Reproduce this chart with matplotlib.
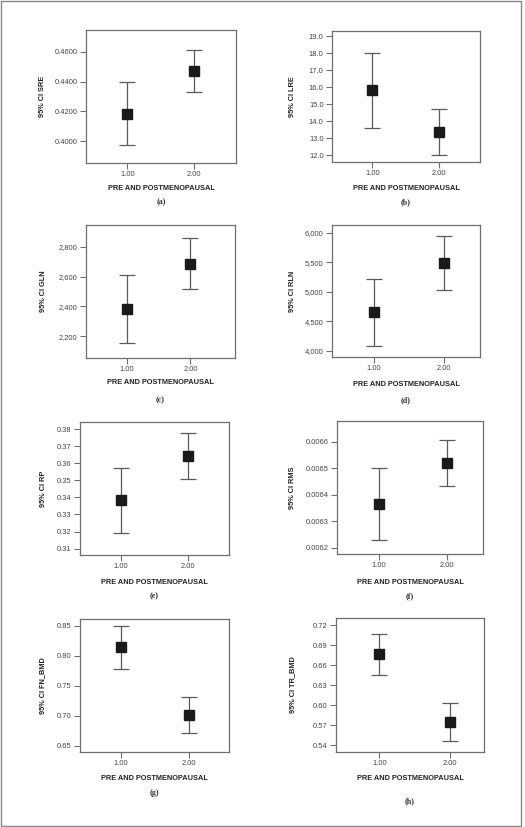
import matplotlib
matplotlib.use("Agg")
import matplotlib.pyplot as plt
from matplotlib.patches import Rectangle
from matplotlib.ticker import FuncFormatter

plt.rcParams['font.family'] = ['Liberation Sans', 'DejaVu Sans']

W, H = 525, 827

# groups on the x axis
groups = [1.0, 2.0]
group_labels = ["1.00", "2.00"]
xlabel = "PRE AND POSTMENOPAUSAL"

# means and 95% CI bounds
sre_mean = [0.4183, 0.4471]
sre_lo = [0.3973, 0.4328]
sre_hi = [0.4397, 0.4611]

lre_mean = [15.82, 13.35]
lre_lo = [13.62, 12.00]
lre_hi = [18.02, 14.70]

gln_mean = [2385, 2686]
gln_lo = [2157, 2514]
gln_hi = [2612, 2856]

rln_mean = [4655, 5480]
rln_lo = [4085, 5026]
rln_hi = [5222, 5938]

rp_mean = [0.3382, 0.3644]
rp_lo = [0.3190, 0.3507]
rp_hi = [0.3572, 0.3779]

rms_mean = [0.006365, 0.006520]
rms_lo = [0.006228, 0.006433]
rms_hi = [0.006501, 0.006606]

fn_mean = [0.8139, 0.7017]
fn_lo = [0.7777, 0.6717]
fn_hi = [0.8500, 0.7310]

tr_mean = [0.6764, 0.5756]
tr_lo = [0.6453, 0.5471]
tr_hi = [0.7070, 0.6042]

ylabels = ["95% CI SRE", "95% CI LRE", "95% CI GLN", "95% CI RLN",
           "95% CI RP", "95% CI RMS", "95% CI FN_BMD", "95% CI TR_BMD"]
captions = ["(a)", "(b)", "(c)", "(d)", "(e)", "(f)", "(g)", "(h)"]

yticks = [
    [0.40, 0.42, 0.44, 0.46],
    [12, 13, 14, 15, 16, 17, 18, 19],
    [2200, 2400, 2600, 2800],
    [4000, 4500, 5000, 5500, 6000],
    [0.31, 0.32, 0.33, 0.34, 0.35, 0.36, 0.37, 0.38],
    [0.0062, 0.0063, 0.0064, 0.0065, 0.0066],
    [0.65, 0.70, 0.75, 0.80, 0.85],
    [0.54, 0.57, 0.60, 0.63, 0.66, 0.69, 0.72],
]
fmts = ["{:.4f}", "{:.1f}", "{:,.0f}", "{:,.0f}", "{:.2f}", "{:.4f}", "{:.2f}", "{:.2f}"]

means = [sre_mean, lre_mean, gln_mean, rln_mean, rp_mean, rms_mean, fn_mean, tr_mean]
lows = [sre_lo, lre_lo, gln_lo, rln_lo, rp_lo, rms_lo, fn_lo, tr_lo]
highs = [sre_hi, lre_hi, gln_hi, rln_hi, rp_hi, rms_hi, fn_hi, tr_hi]

# layout in pixels: left, top, right, bottom of each axes
boxes = [(86, 30, 236, 163), (332, 31, 480, 162),
         (86, 225, 235, 358), (332, 225, 480, 357),
         (80, 422, 229, 555), (337, 421, 483, 554),
         (80, 619, 229, 752), (336, 618, 484, 752)]
xlims = [(0.38, 2.63), (0.39, 2.62), (0.36, 2.70), (0.395, 2.52),
         (0.40, 2.60), (0.39, 2.52), (0.39, 2.60), (0.38, 2.49)]
ylims = [(0.3855, 0.4745), (11.59, 19.31), (2055, 2945), (3893, 6130),
         (0.3063, 0.3841), (0.006176, 0.006678), (0.6393, 0.861), (0.530, 0.731)]
xlabel_y = [188, 188, 383, 384, 582, 582, 779, 779]
caption_y = [202, 202, 400, 400, 596, 596, 793, 801]
ylabel_x = [43, 293, 43, 293, 43, 293, 43, 293]

grey = "#6e6e6e"
fig = plt.figure(figsize=(W / 100, H / 100), dpi=100)

for i in range(8):
    l, t, r, b = boxes[i]
    ax = fig.add_axes([l / W, 1 - b / H, (r - l) / W, (b - t) / H])
    yerr = [[m - lo for m, lo in zip(means[i], lows[i])],
            [hi - m for m, hi in zip(means[i], highs[i])]]
    ax.errorbar(groups, means[i], yerr=yerr, fmt="none", ecolor="#5a5a5a",
                elinewidth=0.9, capsize=6, capthick=0.9)
    ax.plot(groups, means[i], "s", color="#1a1a1a", markersize=6.5)
    ax.set_xlim(*xlims[i])
    ax.set_ylim(*ylims[i])
    ax.set_xticks(groups)
    ax.set_xticklabels(group_labels)
    ax.set_yticks(yticks[i])
    f = fmts[i]
    ax.yaxis.set_major_formatter(FuncFormatter(lambda v, p, f=f: f.format(v)))
    for s in ax.spines.values():
        s.set_color(grey)
        s.set_linewidth(0.9)
    ax.tick_params(axis="both", direction="out", length=4, width=0.8, color=grey,
                   labelsize=5.4, labelcolor="#444444", pad=2)
    ax.set_xlabel(xlabel, fontsize=5.3, fontweight="bold", color="#222222")
    ax.xaxis.set_label_coords(0.5, (b - xlabel_y[i]) / (b - t), transform=ax.transAxes)
    ax.xaxis.label.set_va("center")
    ax.set_ylabel(ylabels[i], fontsize=5.3, fontweight="bold", color="#222222")
    ax.yaxis.set_label_coords((ylabel_x[i] - l) / (r - l), 0.5, transform=ax.transAxes)
    ax.yaxis.label.set_va("center")
    fig.text((l + r) / 2 / W, 1 - caption_y[i] / H, captions[i], ha="center", va="center",
             fontsize=5.8, family="Liberation Serif", fontweight="bold", color="#333333")

fig.patches.append(Rectangle((1 / W, 1 / H), 520 / W, 825 / H, transform=fig.transFigure,
                             fill=False, edgecolor="#888888", linewidth=1.0))

fig.savefig("out.png", dpi=100)
